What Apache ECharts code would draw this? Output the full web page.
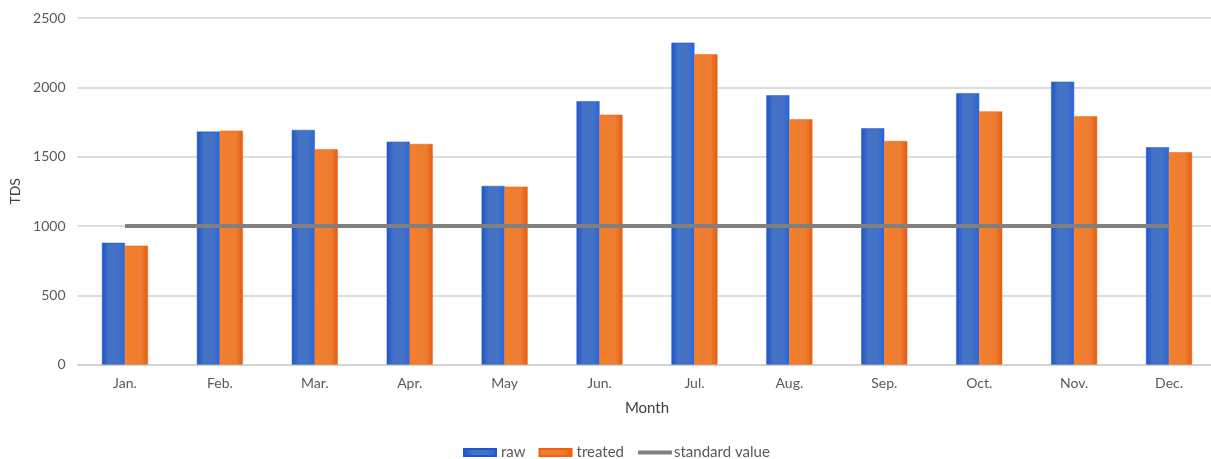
<!DOCTYPE html>
<html>
<head>
<meta charset="utf-8">
<script src="https://cdn.jsdelivr.net/npm/echarts@6/dist/echarts.min.js"></script>
<style>html,body{margin:0;padding:0;background:#fff;overflow:hidden}#c{width:1217px;height:459px}</style>
</head>
<body>
<div id="c"></div>
<script>
const months = ['Jan.','Feb.','Mar.','Apr.','May','Jun.','Jul.','Aug.','Sep.','Oct.','Nov.','Dec.'];
const raw = [879,1681,1693,1608,1289,1900,2323,1943,1705,1958,2041,1568];
const treated = [858,1688,1553,1592,1284,1803,2239,1770,1613,1827,1791,1532];
const standardValue = [1000,1000,1000,1000,1000,1000,1000,1000,1000,1000,1000,1000];
const yTicks = [0,500,1000,1500,2000,2500];

const font = 'Lato, "Liberation Sans", sans-serif';
const blueGrad = new echarts.graphic.LinearGradient(0,0,1,0,[
  {offset:0,color:'#1d55cc'},{offset:0.3,color:'#4472c4'},{offset:0.7,color:'#4472c4'},{offset:1,color:'#2a66dc'}]);
const orangeGrad = new echarts.graphic.LinearGradient(0,0,1,0,[
  {offset:0,color:'#ff7f1e'},{offset:0.3,color:'#ed7d31'},{offset:0.7,color:'#ed7d31'},{offset:1,color:'#e65a0e'}]);

const chart = echarts.init(document.getElementById('c'));
chart.setOption({
  animation:false,
  textStyle:{fontFamily:font},
  grid:{left:77.5,right:0.5,top:18.1,bottom:94.4},
  legend:[{
    top:440, left:458,
    itemWidth:32, itemHeight:7, itemGap:13,
    textStyle:{color:'#595959',fontSize:15,fontFamily:font},
    data:[{name:'raw',icon:'rect'},{name:'treated',icon:'rect'}]
  },{
    top:440, left:633,
    itemWidth:34, itemHeight:4, itemGap:18,
    textStyle:{color:'#595959',fontSize:15,fontFamily:font,padding:[0,0,0,-3]},
    data:[{name:'standard value',icon:'roundRect'}]
  }],
  xAxis:{
    type:'category', data:months,
    name:'Month', nameLocation:'middle', nameGap:36,
    nameTextStyle:{color:'#404040',fontSize:15,fontFamily:font},
    axisLine:{lineStyle:{color:'#d0d0d0',width:1.5}},
    axisTick:{show:false},
    axisLabel:{color:'#595959',fontSize:14,margin:12,fontFamily:font}
  },
  yAxis:{
    type:'value', min:0, max:2500, interval:500,
    name:'TDS', nameLocation:'middle', nameGap:52, nameRotate:90,
    nameTextStyle:{color:'#404040',fontSize:14,fontFamily:font},
    axisLine:{show:false}, axisTick:{show:false},
    axisLabel:{color:'#595959',fontSize:14,margin:12,fontFamily:font,
      formatter:v=>yTicks.includes(v)?String(v):''},
    splitLine:{lineStyle:{color:'#d0d0d0',width:1.5}}
  },
  series:[
    {name:'raw',type:'bar',data:raw,barWidth:23,barGap:'0%',
     itemStyle:{color:blueGrad,borderColor:'#1f55d0',borderWidth:0.5}},
    {name:'treated',type:'bar',data:treated,barWidth:23,
     itemStyle:{color:orangeGrad,borderColor:'#f06010',borderWidth:0.5}},
    {name:'standard value',type:'line',data:standardValue,symbol:'none',
     lineStyle:{color:'#808080',width:4},itemStyle:{color:'#808080'},z:5}
  ]
});
</script>
</body>
</html>
